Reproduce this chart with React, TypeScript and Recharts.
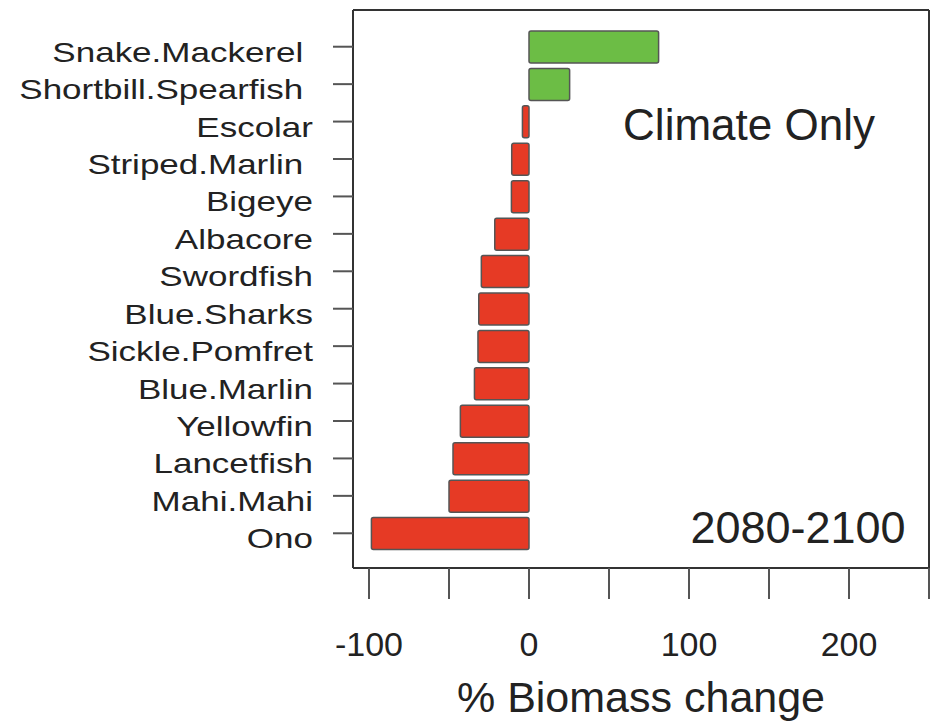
import { BarChart, Bar, XAxis, YAxis, Cell, CartesianGrid } from 'recharts';

const species = [
  'Snake.Mackerel ',
  'Shortbill.Spearfish ',
  'Escolar',
  'Striped.Marlin ',
  'Bigeye',
  'Albacore',
  'Swordfish',
  'Blue.Sharks',
  'Sickle.Pomfret',
  'Blue.Marlin',
  'Yellowfin',
  'Lancetfish',
  'Mahi.Mahi',
  'Ono',
];
const biomassChange = [81, 25.4, -4.1, -10.8, -11, -21.4, -29.8, -31.4, -31.9, -34.1, -42.9, -47.5, -50, -98.5];
const xTicks = [-100, -50, 0, 50, 100, 150, 200, 250];
const xLabels = [-100, 0, 100, 200];

const data = species.map((name, i) => ({ name, change: biomassChange[i] }));

const FONT = '"Liberation Sans", Arial, Helvetica, sans-serif';
const frame = { stroke: '#333', strokeWidth: 2 };

const SpeciesTick = ({ x, y, payload }: any) => (
  <text
    transform={`translate(${x},${y + 5}) scale(1.25,1)`}
    textAnchor="end"
    dy="0.355em"
    fontSize={28}
    fontFamily={FONT}
    fill="#222"
    style={{ whiteSpace: 'pre' }}
  >
    {payload.value}
  </text>
);

// frame the plot area: grid lines only at its edges
const frameRows = ({ offset }: any) => [offset.top, offset.top + offset.height];
const frameCols = ({ offset }: any) => [offset.left, offset.left + offset.width];

const App = () => {
  return (
    <div style={{ position: 'absolute', left: 0, top: 0, width: 942, height: 728, background: '#fff' }}>
      <BarChart
        width={942}
        height={728}
        data={data}
        layout="vertical"
        margin={{ top: 10, right: 13, left: 0, bottom: 0 }}
      >
        <CartesianGrid
          stroke="#333"
          strokeWidth={2}
          horizontalCoordinatesGenerator={frameRows}
          verticalCoordinatesGenerator={frameCols}
        />
        <XAxis
          type="number"
          dataKey="change"
          domain={[-110, 250]}
          allowDataOverflow
          ticks={xTicks}
          interval={0}
          tickFormatter={(v: number) => (xLabels.includes(v) ? String(v) : '')}
          axisLine={frame}
          tickLine={{ stroke: '#555', strokeWidth: 2 }}
          tickSize={31}
          tickMargin={33}
          tick={{ fontSize: 34, fontFamily: FONT, fill: '#222' }}
          height={160}
          label={{
            value: '% Biomass change',
            position: 'insideBottom',
            offset: 16,
            fontSize: 43,
            fontFamily: FONT,
            fill: '#222',
          }}
        />
        <YAxis
          type="category"
          dataKey="name"
          width={353}
          interval={0}
          axisLine={frame}
          tickLine={{ stroke: '#555', strokeWidth: 2 }}
          tickSize={20}
          tickMargin={20}
          padding={{ top: 18, bottom: 16 }}
          tick={<SpeciesTick />}
        />
        <Bar dataKey="change" barSize={32} stroke="#555" strokeWidth={1.5} radius={2} isAnimationActive={false}>
          {data.map((d) => (
            <Cell key={d.name} fill={d.change >= 0 ? '#6CBD45' : '#E63A25'} />
          ))}
        </Bar>
      </BarChart>
      <svg
        width={942}
        height={728}
        style={{ position: 'absolute', left: 0, top: 0, pointerEvents: 'none' }}
      >
        <text x={749} y={140} textAnchor="middle" fontSize={44} fontFamily={FONT} fill="#222">
          Climate Only
        </text>
        <text x={798} y={543} textAnchor="middle" fontSize={45} fontFamily={FONT} fill="#222">
          2080-2100
        </text>
      </svg>
    </div>
  );
};

export default App;
